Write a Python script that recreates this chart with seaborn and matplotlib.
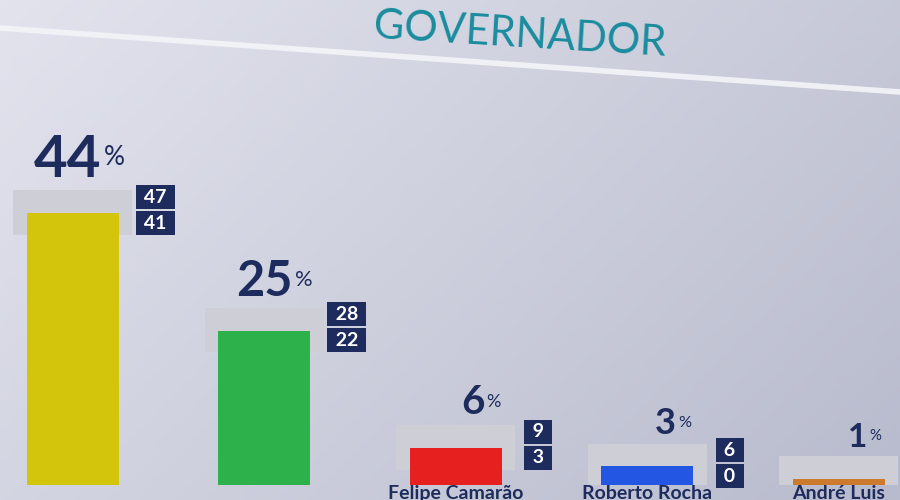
import numpy as np
import pandas as pd
import matplotlib.pyplot as plt
import seaborn as sns
from matplotlib.colors import LinearSegmentedColormap
from matplotlib.lines import Line2D

sns.set_style('white')
plt.rcParams['font.family'] = ['Lato', 'DejaVu Sans']

# dados da pesquisa (governador)
candidatos = ['Candidato A', 'Candidato B', 'Felipe Camarão', 'Roberto Rocha', 'André Luis']
rotulos = ['', '', 'Felipe Camarão', 'Roberto Rocha', 'André Luis']
percentuais = [44, 25, 6, 3, 1]
limite_sup = [47, 28, 9, 6, 4]
limite_inf = [41, 22, 3, 0, 0]
cores = ['#d3c40c', '#2db24b', '#e6201f', '#2456e4', '#cc7a2e']

azul = '#1d2c5c'
cinza_topo = '#cdced6'

df = pd.DataFrame({'candidato': candidatos, 'pct': percentuais})
df['base_topo'] = (df['pct'] - 3.5).clip(lower=0)
df['alt_topo'] = df['pct'] + 3.7 - df['base_topo']

fig = plt.figure(figsize=(9, 5), dpi=100)

# fundo em degrade (tela)
fundo = fig.add_axes([0, 0, 1, 1], zorder=-1)
gx, gy = np.meshgrid(np.linspace(0, 1, 200), np.linspace(0, 1, 120))
fundo.imshow(0.65 * gx + 0.35 * gy, aspect='auto', extent=[0, 1, 0, 1],
             cmap=LinearSegmentedColormap.from_list('tela', ['#e2e3ed', '#b8bbcd']))
fundo.axis('off')

ax = fig.add_axes([0, 0.03, 1, 0.97])
ax.set_facecolor('none')

# bloco cinza atras do topo de cada barra
sns.barplot(data=df, x='candidato', y='alt_topo', bottom=df['base_topo'].to_numpy(),
            color=cinza_topo, width=0.62, saturation=1, linewidth=0, edgecolor='none', ax=ax)
sns.barplot(data=df, x='candidato', y='pct', hue='candidato', palette=cores,
            width=0.48, saturation=1, legend=False, linewidth=0, edgecolor='none', ax=ax)

tam_pct = [42, 35, 29, 26, 24]
for i, (p, s, n) in enumerate(zip(percentuais, limite_sup, limite_inf)):
    y_lab = p + 3.7 + 0.6
    ax.text(i + 0.15, y_lab, str(p), ha='right', va='bottom', fontsize=tam_pct[i],
            fontweight='bold', color=azul)
    ax.annotate('%', (i + 0.16, y_lab), xytext=(0, tam_pct[i] * 0.28), textcoords='offset points',
                ha='left', va='bottom', fontsize=tam_pct[i] * 0.45, color=azul)
    for val, y in ((s, p + 2.6), (n, p - 1.6)):
        ax.text(i + 0.43, y, f' {val} ', ha='center', va='center', fontsize=14,
                fontweight='bold', color='white', clip_on=False,
                bbox=dict(boxstyle='square,pad=0.18', fc=azul, ec='none'))

ax.set_ylim(0, 78.5)
ax.set_xlim(-0.38, 4.32)
ax.set_xticks(range(len(rotulos)))
ax.set_xticklabels(rotulos, fontsize=14, fontweight='bold', color=azul)
ax.tick_params(axis='x', length=0, pad=0)
ax.set_yticks([])
ax.set_xlabel('')
ax.set_ylabel('')
sns.despine(ax=ax, left=True, bottom=True)

# faixa branca diagonal da tela
fig.add_artist(Line2D([0, 1], [1 - 28 / 500, 1 - 92 / 500], color='#f4f5f8', lw=4,
                      transform=fig.transFigure, alpha=0.9))
fig.text(0.578, 0.93, 'GOVERNADOR', color='#1a8c9e', fontsize=30,
         ha='center', va='center', rotation=-3.5)

fig.savefig('out.png', dpi=100)
